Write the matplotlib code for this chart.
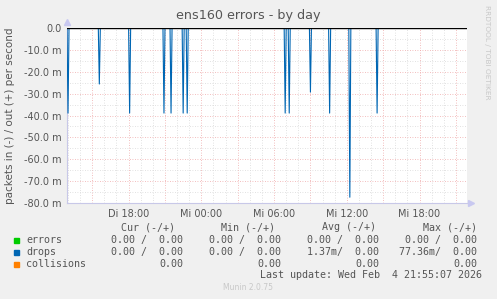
import numpy as np
import matplotlib
matplotlib.use("Agg")
import matplotlib.pyplot as plt

# Datos (horas desde el martes 00:00)
inicio, fin = 12 + 55 / 60, 45 + 55 / 60
picos_hora = [13.0, 15.58, 18.1, 20.92, 21.5, 22.5, 22.83, 30.92, 31.25, 33.0, 34.58, 36.25, 38.5]
picos_drops = [-38.9, -25.6, -38.9, -38.9, -38.9, -38.9, -38.9, -38.9, -38.9, -29.3, -38.9, -77.36, -38.9]
ticks_x = [18, 24, 30, 36, 42]
etiquetas_x = ["Di 18:00", "Mi 00:00", "Mi 06:00", "Mi 12:00", "Mi 18:00"]
ticks_y = [0, -10, -20, -30, -40, -50, -60, -70, -80]
etiquetas_y = ["0.0"] + [f"{v:.1f} m" for v in ticks_y[1:]]

# Serie de drops cada 5 minutos
t = np.arange(inicio, fin, 5 / 60)
drops = np.zeros_like(t)
for h, v in zip(picos_hora, picos_drops):
    drops[np.argmin(np.abs(t - h))] = v

W, H = 497, 299
fig = plt.figure(figsize=(W / 100, H / 100), dpi=100, facecolor="#F0F0F0")
ax = fig.add_axes([67 / W, 96 / H, 400 / W, 175 / H], facecolor="white")

ax.set_xlim(inicio, fin)
ax.set_ylim(-80, 0)

# Rejilla
for h in range(13, 46):
    ax.axvline(h, color="#D8D8D8" if h % 3 else "#EFA8A8", lw=0.6, ls=(0, (1, 2)), zorder=1)
for v in np.arange(-75, 0, 5):
    ax.axhline(v, color="#D8D8D8" if v % 10 else "#EFA8A8", lw=0.6, ls=(0, (1, 2)), zorder=1)

ax.plot(t, drops, color="#0066B3", lw=0.8, zorder=3)
ax.axhline(0, color="black", lw=1.0, zorder=4)

for s in ["top", "right"]:
    ax.spines[s].set_visible(False)
for s in ["left", "bottom"]:
    ax.spines[s].set_color("#C8C8E8")
    ax.spines[s].set_linewidth(0.8)
ax.plot([inicio], [2.9], marker="^", color="#C8C8F0", ms=5, clip_on=False, zorder=5)
ax.plot([fin + 0.3], [-80], marker=">", color="#C8C8F0", ms=5, clip_on=False, zorder=5)

ax.set_xticks(ticks_x)
ax.set_xticklabels(etiquetas_x)
ax.set_yticks(ticks_y)
ax.set_yticklabels(etiquetas_y)
ax.tick_params(colors="#555555", labelsize=7, length=0, pad=4)
ax.set_ylabel("packets in (-) / out (+) per second", fontsize=7.5, color="#555555", labelpad=6)

def texto(x, y, s, **kw):
    fig.text(x / W, 1 - y / H, s, va="center", **kw)

texto(248, 15, "ens160 errors - by day", ha="center", fontsize=9.2, color="#555555")
fig.text(487 / W, 1 - 52 / H, "RRDTOOL / TOBI OETIKER", rotation=270, ha="center", va="center",
         fontsize=5.3, color="#C8C8C8")

mono = dict(family="DejaVu Sans Mono", fontsize=7.2, color="#555555")
texto(121, 227, "Cur (-/+)", **mono)
texto(221, 227, "Min (-/+)", **mono)
texto(322, 227, "Avg (-/+)", **mono)
texto(423, 227, "Max (-/+)", **mono)

filas = [
    ("errors", "#00CC00", ["0.00 /  0.00", "0.00 /  0.00", "0.00 /  0.00", "0.00 /  0.00"]),
    ("drops", "#0066B3", ["0.00 /  0.00", "0.00 /  0.00", "1.37m/  0.00", "77.36m/  0.00"]),
    ("collisions", "#FF8000", ["0.00", "0.00", "0.00", "0.00"]),
]
for i, (nombre, color, vals) in enumerate(filas):
    y = 240 + 12 * i
    fig.patches.append(plt.Rectangle((14 / W, 1 - (y + 3) / H), 5 / W, 5 / H,
                                     transform=fig.transFigure, color=color))
    texto(26, y, nombre, **mono)
    for xr, v in zip([183, 281, 379, 477], vals):
        texto(xr, y, v, ha="right", **mono)

texto(482, 275.5, "Last update: Wed Feb  4 21:55:07 2026", ha="right", **mono)
texto(248, 288, "Munin 2.0.75", ha="center", fontsize=5.5, color="#C8C8C8")

fig.savefig("out.png", dpi=100, facecolor=fig.get_facecolor())
